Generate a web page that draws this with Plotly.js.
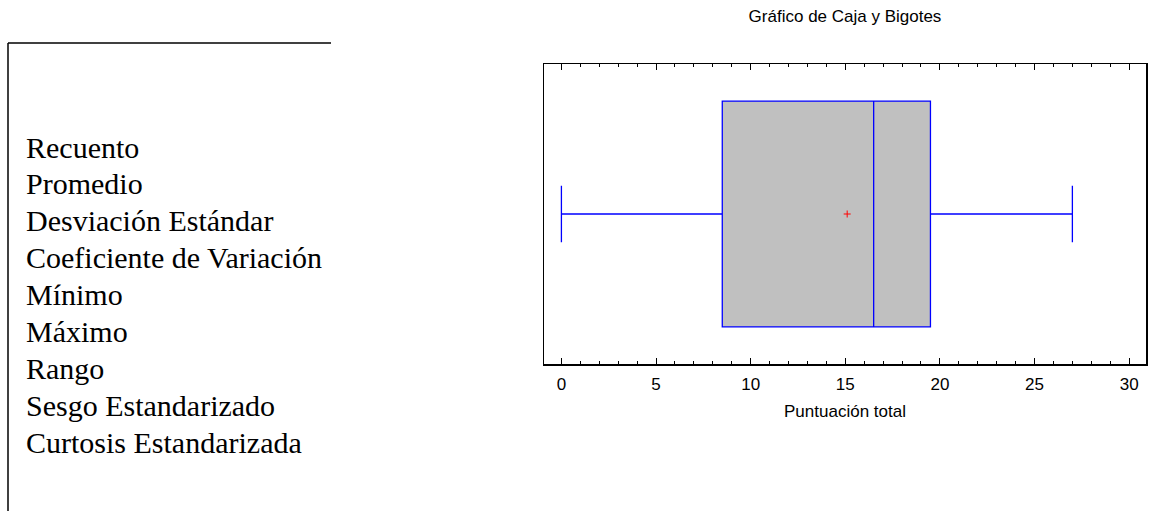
<!DOCTYPE html>
<html>
<head>
<meta charset="utf-8">
<script src="https://cdn.plot.ly/plotly-3.0.1.min.js"></script>
<style>html,body{margin:0;padding:0;background:#fff;}#chart{width:1164px;height:511px;}</style>
</head>
<body>
<div id="chart"></div>
<script>
// Summary statistic labels (left panel)
const statLabels = ["Recuento","Promedio","Desviación Estándar","Coeficiente de Variación","Mínimo","Máximo","Rango","Sesgo Estandarizado","Curtosis Estandarizada"];
// Box-and-whisker values for "Puntuación total"
const boxMin = [0];
const boxQ1 = [8.5];
const boxMedian = [16.5];
const boxQ3 = [19.5];
const boxMax = [27];
const boxMean = [15.1];
const tickVals = [0,5,10,15,20,25,30];

const W = 1164, H = 511;
const L = 544, R = 1146, T = 64, B = 364;
const px = v => (v - L) / (R - L);
const py = v => (B - v) / (B - T);

const traces = [
  {
    type: 'box', orientation: 'h',
    y: [0], q1: boxQ1, median: boxMedian, q3: boxQ3,
    lowerfence: boxMin, upperfence: boxMax,
    width: 0.753, whiskerwidth: 0.25,
    fillcolor: '#c0c0c0',
    line: {color: '#0000ff', width: 1.3},
    boxpoints: false, hoverinfo: 'skip', showlegend: false
  },
  {
    type: 'scatter', mode: 'markers', x: boxMean, y: [0],
    marker: {symbol: 'cross-thin', size: 5, line: {color: '#ff0000', width: 1}},
    hoverinfo: 'skip', showlegend: false
  }
];

const annotations = statLabels.map((t, i) => ({
  text: t, xref: 'paper', yref: 'paper',
  x: px(24), y: py(147 + i * 36.9), xanchor: 'left', yanchor: 'middle',
  showarrow: false, font: {family: 'Liberation Serif, Times New Roman, serif', size: 30, color: '#000'}
}));

const layout = {
  width: W, height: H,
  margin: {l: L, r: W - R, t: T, b: H - B, pad: 0},
  paper_bgcolor: '#fff', plot_bgcolor: '#fff',
  font: {family: 'Liberation Sans, Arial, sans-serif', color: '#000'},
  title: {text: 'Gráfico de Caja y Bigotes', font: {size: 17, color: '#000'},
          x: 0.5, xref: 'paper', xanchor: 'center', y: 1 - 16 / H, yref: 'container', yanchor: 'middle'},
  xaxis: {
    range: [-0.92, 30.89], tickvals: tickVals, ticks: 'inside', ticklen: 6, tickwidth: 1, tickcolor: '#000',
    mirror: 'allticks', showline: true, linecolor: '#000', linewidth: 1.5, showgrid: false, zeroline: false,
    minor: {dtick: 1, ticks: 'inside', ticklen: 3, tickwidth: 1, tickcolor: '#000', showgrid: false},
    tickfont: {size: 17, color: '#000'}, ticklabelstandoff: 4,
    title: {text: 'Puntuación total', font: {size: 17, color: '#000'}, standoff: 12}
  },
  yaxis: {
    range: [-0.5, 0.5], showticklabels: false, ticks: '', showgrid: false, zeroline: false,
    showline: true, mirror: true, linecolor: '#000', linewidth: 1.5, fixedrange: true
  },
  shapes: [
    {type: 'line', xref: 'paper', yref: 'paper', x0: px(8), x1: px(331), y0: py(43), y1: py(43), line: {color: '#000', width: 1.5}},
    {type: 'line', xref: 'paper', yref: 'paper', x0: px(8), x1: px(8), y0: py(43), y1: py(515), line: {color: '#000', width: 1.5}}
  ],
  annotations: annotations
};

Plotly.newPlot('chart', traces, layout, {displayModeBar: false, staticPlot: true});
</script>
</body>
</html>
